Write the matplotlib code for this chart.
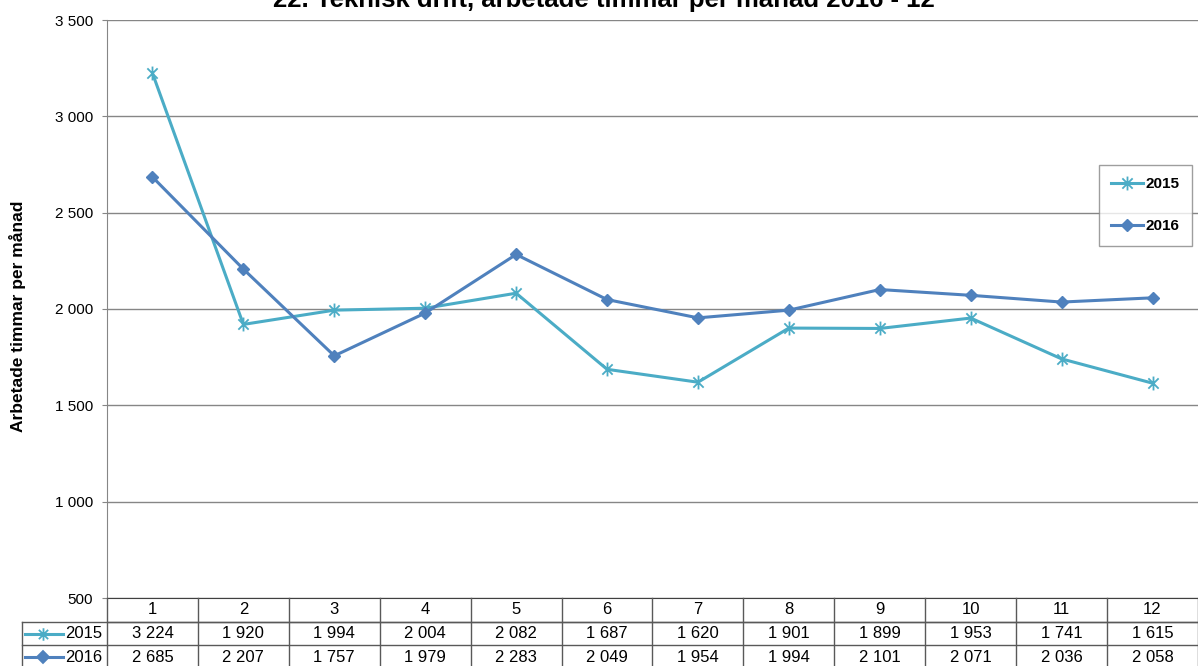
import matplotlib
matplotlib.use("Agg")
import matplotlib.pyplot as plt
from matplotlib.path import Path
from matplotlib.transforms import blended_transform_factory
from matplotlib.lines import Line2D
from matplotlib.ticker import FuncFormatter

months = ["1", "2", "3", "4", "5", "6", "7", "8", "9", "10", "11", "12"]
series_names = ["2015", "2016"]
values_2015 = [3224, 1920, 1994, 2004, 2082, 1687, 1620, 1901, 1899, 1953, 1741, 1615]
values_2016 = [2685, 2207, 1757, 1979, 2283, 2049, 1954, 1994, 2101, 2071, 2036, 2058]
title = "22. Teknisk drift, arbetade timmar per månad 2016 - 12"
ylabel = "Arbetade timmar per månad"
yticks = [500, 1000, 1500, 2000, 2500, 3000, 3500]

plt.rcParams['font.family'] = ['Liberation Sans', 'DejaVu Sans']

W, H = 1198, 666
fig = plt.figure(figsize=(W / 100, H / 100), dpi=100)
ax = fig.add_axes([107 / W, 1 - 598 / H, (W - 107) / W, (598 - 20) / H])

c15 = "#4BACC6"
c16 = "#4F81BD"
star = Path([(-1, -1), (1, 1), (-1, 1), (1, -1), (0, -1.35), (0, 1.35)],
            [Path.MOVETO, Path.LINETO, Path.MOVETO, Path.LINETO, Path.MOVETO, Path.LINETO])

def fmt(v):
    return f"{int(v):,}".replace(",", " ")

x = list(range(1, len(months) + 1))
ax.plot(x, values_2015, color=c15, lw=2.2, marker=star, markersize=10,
        markeredgewidth=1.3, markeredgecolor=c15, label=series_names[0], zorder=3)
ax.plot(x, values_2016, color=c16, lw=2.2, marker="D", markersize=6.5,
        markeredgecolor=c16, markerfacecolor=c16, label=series_names[1], zorder=3)

ax.set_xlim(0.5, len(months) + 0.5)
ax.set_ylim(500, 3500)
ax.set_yticks(yticks)
ax.yaxis.set_major_formatter(FuncFormatter(lambda v, p: fmt(v)))
ax.tick_params(axis='y', length=3.6, color="#868686", labelsize=11, pad=6.5, direction='out')
ax.set_xticks([])
ax.grid(axis='y', color="#868686", lw=1)
ax.set_axisbelow(True)
for s in ["top", "right"]:
    ax.spines[s].set_visible(False)
ax.spines["left"].set_color("#868686")
ax.spines["bottom"].set_color("#404040")

fig.text(604 / W, 1 - 7 / H, title, ha='center', va='baseline', fontsize=18.5, fontweight='bold')
fig.text(18 / W, 1 - 316 / H, ylabel, rotation=90, ha='center', va='center',
         fontsize=12.5, fontweight='bold')

leg = fig.legend(loc='upper right', bbox_to_anchor=(1192 / W, 1 - 165 / H),
                 frameon=True, fancybox=False, edgecolor="#868686",
                 prop={'weight': 'bold', 'size': 11}, labelspacing=1.85,
                 handlelength=2.1, borderpad=0.8, handletextpad=0.15,
                 borderaxespad=0)
leg.get_frame().set_linewidth(1)

# data table below the axes
tr = blended_transform_factory(ax.transData, fig.transFigure)
trf = fig.transFigure
lc = "#595959"

def fy(p):
    return 1 - p / H

fig.add_artist(Line2D([0.5, 12.5], [fy(622), fy(622)], transform=tr, color=lc, lw=1))
fig.add_artist(Line2D([22 / W, 1], [fy(622), fy(622)], transform=trf, color=lc, lw=1))
fig.add_artist(Line2D([22 / W, 1], [fy(645), fy(645)], transform=trf, color=lc, lw=1))
fig.add_artist(Line2D([22 / W, 22 / W], [fy(622), 0], transform=trf, color=lc, lw=1))
for b in range(len(months) + 1):
    fig.add_artist(Line2D([b + 0.5, b + 0.5], [fy(598), 0], transform=tr, color=lc, lw=1))
for i, m in enumerate(months):
    fig.text(i + 1, fy(610), m, transform=tr, ha='center', va='center', fontsize=12)
    fig.text(i + 1, fy(634), fmt(values_2015[i]), transform=tr,
             ha='center', va='center', fontsize=12)
    fig.text(i + 1, fy(657), fmt(values_2016[i]), transform=tr,
             ha='center', va='center', fontsize=12)
for yy, name, col, mk, ms in [(634, series_names[0], c15, star, 9), (657, series_names[1], c16, "D", 6)]:
    fig.add_artist(Line2D([25 / W, 63 / W], [fy(yy), fy(yy)], transform=trf, color=col, lw=2.2))
    fig.add_artist(Line2D([43 / W], [fy(yy)], transform=trf, color=col, marker=mk,
                          markersize=ms, markeredgewidth=1.3, markeredgecolor=col, markerfacecolor=col))
    fig.text(65 / W, fy(yy), name, transform=trf, ha='left', va='center', fontsize=12)

fig.savefig("out.png", dpi=100)
